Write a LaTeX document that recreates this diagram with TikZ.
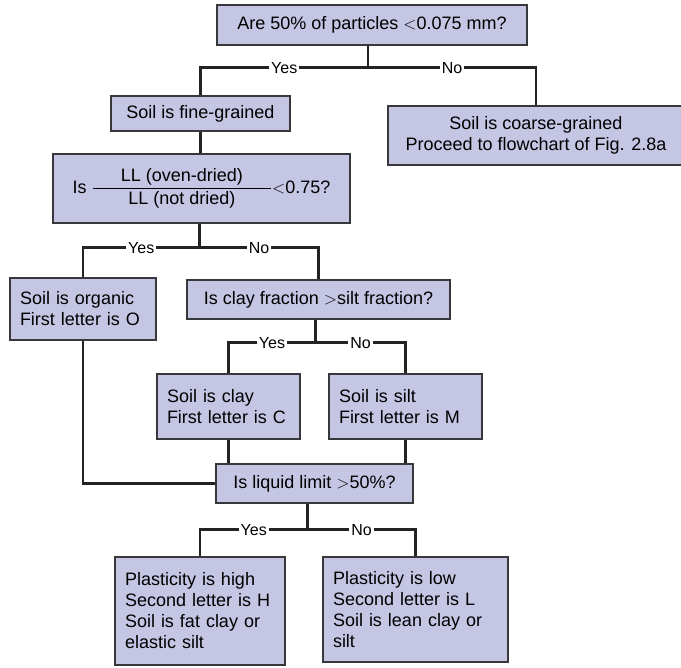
\documentclass[tikz,border=0pt]{standalone}
\usepackage{amsmath}
\usepackage{fontspec}
\setmainfont{Liberation Sans}
\usetikzlibrary{positioning,calc}
\definecolor{boxcolor}{RGB}{197,198,228}
\definecolor{edgecolor}{RGB}{55,55,60}
\definecolor{linecolor}{RGB}{35,35,35}

\begin{document}
\begin{tikzpicture}[x=1pt,y=-1pt,
    box/.style={draw=edgecolor,line width=1.2pt,fill=boxcolor,inner sep=0pt,
        align=center,font=\fontsize{18}{21}\selectfont},
    listbox/.style={box,align=left,inner xsep=10pt},
    link/.style={draw=linecolor,line width=2.4pt},
    answer/.style={fill=white,inner xsep=2pt,inner ysep=1pt,font=\fontsize{16}{18}\selectfont}]
    \useasboundingbox (0,0) rectangle (681,668);

    % Questions
    \node[box,minimum width=310pt,minimum height=40pt] (q1) at (372,25)
        {Are 50\% of particles $<$0.075 mm?};
    \node[box,minimum width=297pt,minimum height=69pt] (ratio) at (201.5,188.5)
        {Is $\dfrac{\mbox{\hspace{28pt}LL (oven-dried)\hspace{28pt}}}{\mbox{LL (not dried)}}{<}$0.75?};
    \node[box,minimum width=263pt,minimum height=39pt] (clayfrac) at (318.5,299.5)
        {Is clay fraction $>$silt fraction?};
    \node[box,minimum width=197pt,minimum height=39pt] (ll50) at (314.5,483.5)
        {Is liquid limit $>$50\%?};

    % Outcomes
    \node[box,minimum width=179pt,minimum height=35pt] (fine) at (200.5,113.5)
        {Soil is fine-grained};
    \node[box,minimum width=296pt,minimum height=59pt] (coarse) at (536,135.5)
        {Soil is coarse-grained\\Proceed to flowchart of Fig. 2.8a};
    \node[listbox,text width=126pt,minimum height=62pt] (organic) at (83,309)
        {Soil is organic\\First letter is O};
    \node[listbox,text width=123pt,minimum height=65pt] (clay) at (228.5,406.5)
        {Soil is clay\\First letter is C};
    \node[listbox,text width=133pt,minimum height=65pt] (silt) at (405.5,406.5)
        {Soil is silt\\First letter is M};
    \node[listbox,text width=150pt,minimum height=108pt] (high) at (200,611)
        {Plasticity is high\\Second letter is H\\Soil is fat clay or\\elastic silt};
    \node[listbox,text width=165pt,minimum height=105pt] (low) at (415.5,609.5)
        {Plasticity is low\\Second letter is L\\Soil is lean clay or\\silt};

    % Stems down to the splits
    \draw[link] ([xshift=-4pt]q1.south) -- ++(0,22) coordinate (s1);
    \draw[link] ([xshift=-2pt]ratio.south) -- ++(0,24) coordinate (s2);
    \draw[link] ([xshift=-3pt]clayfrac.south) -- ++(0,23) coordinate (s3);
    \draw[link] ([xshift=-7pt]ll50.south) -- ++(0,26) coordinate (s5);
    \draw[link] (fine.south) -- (ratio.north -| fine.south);

    % Yes / No branches
    \foreach \s/\l/\r in {s1/fine/coarse, s2/organic/clayfrac, s3/clay/silt, s5/high/low}{
        \draw[link] (\l.north) |- (\s) -| (\r.north);
        \node[answer] at ($(\s)!0.5!(\s -| \l.north)$) {Yes};
        \node[answer] at ($(\s)!0.5!(\s -| \r.north)$) {No};
    }

    % Joins into the liquid limit question
    \draw[link] (organic.south) |- (ll50.west);
    \draw[link] (clay.south) -- (clay.south |- ll50.north);
    \draw[link] (silt.south) -- (silt.south |- ll50.north);
\end{tikzpicture}
\end{document}
